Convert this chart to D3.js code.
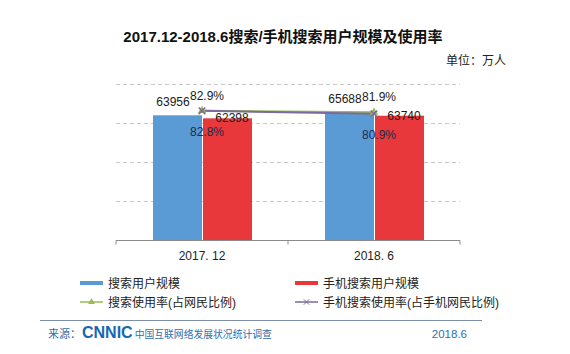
<!DOCTYPE html>
<html>
<head>
<meta charset="utf-8">
<script src="https://cdn.jsdelivr.net/npm/d3@7"></script>
<style>
  body { margin: 0; background: #fff; }
  svg { font-family: "Liberation Sans", Arial, "Noto Sans CJK SC", sans-serif; }
</style>
</head>
<body>
<svg width="570" height="354"></svg>
<script>
// data
var periods = ["2017. 12", "2018. 6"];
var searchUsers = [63956, 65688];
var mobileSearchUsers = [62398, 63740];
var searchRate = [82.9, 81.9];
var mobileSearchRate = [82.8, 80.9];
var yTicks = [0, 20000, 40000, 60000, 80000];

var svg = d3.select("svg"),
    width = +svg.attr("width"),
    height = +svg.attr("height");

var plot = {left: 116, right: 460, top: 84, bottom: 240};

var x = d3.scaleBand()
    .domain(periods)
    .range([plot.left, plot.right]);

var y = d3.scaleLinear()
    .domain([0, 80000])
    .range([plot.bottom, plot.top]);

// hidden right axis for the rates
var y2 = d3.scaleLinear()
    .domain([0, 100])
    .range([plot.bottom, plot.top]);

var barW = 49;
var blue = "#5b9bd5", red = "#e8383b", olive = "#9bbb59", purple = "#7b6a9b";

// title
svg.append("text")
    .attr("x", 283).attr("y", 42)
    .attr("text-anchor", "middle")
    .style("font-size", "15px")
    .style("font-weight", "bold")
    .style("fill", "#111")
    .text("2017.12-2018.6搜索/手机搜索用户规模及使用率");

svg.append("text")
    .attr("x", 506).attr("y", 65)
    .attr("text-anchor", "end")
    .style("font-size", "12px")
    .style("fill", "#222")
    .text("单位：万人");

// gridlines
svg.append("g")
  .selectAll("line")
  .data(yTicks.slice(1))
  .enter()
  .append("line")
    .attr("x1", plot.left).attr("x2", plot.right)
    .attr("y1", function(d){ return y(d) + 0.5 })
    .attr("y2", function(d){ return y(d) + 0.5 })
    .attr("stroke", "#c9c9c9")
    .attr("stroke-dasharray", "4,3");

// bars
var g = svg.append("g");
g.selectAll(".b1")
  .data(periods)
  .enter()
  .append("rect")
    .attr("x", function(d){ return x(d) + x.bandwidth()/2 - barW })
    .attr("y", function(d, i){ return y(searchUsers[i]) })
    .attr("width", barW)
    .attr("height", function(d, i){ return plot.bottom - y(searchUsers[i]) })
    .attr("fill", blue);

g.selectAll(".b2")
  .data(periods)
  .enter()
  .append("rect")
    .attr("x", function(d){ return x(d) + x.bandwidth()/2 + 1 })
    .attr("y", function(d, i){ return y(mobileSearchUsers[i]) })
    .attr("width", barW)
    .attr("height", function(d, i){ return plot.bottom - y(mobileSearchUsers[i]) })
    .attr("fill", red);

// x axis
var xAxis = svg.append("g")
    .attr("transform", "translate(0," + (plot.bottom + 0.5) + ")");
xAxis.append("line")
    .attr("x1", plot.left).attr("x2", plot.right)
    .attr("stroke", "#8a8a8a");
xAxis.selectAll(".tick")
  .data([plot.left, plot.left + x.bandwidth(), plot.right])
  .enter()
  .append("line")
    .attr("x1", function(d){ return d }).attr("x2", function(d){ return d })
    .attr("y1", 0).attr("y2", 4)
    .attr("stroke", "#8a8a8a");
xAxis.selectAll("text")
  .data(periods)
  .enter()
  .append("text")
    .attr("x", function(d){ return x(d) + x.bandwidth()/2 })
    .attr("y", 19)
    .attr("text-anchor", "middle")
    .style("font-size", "12px")
    .style("fill", "#222")
    .text(function(d){ return d });

// rate lines
var cx = function(d){ return x(d) + x.bandwidth()/2 };
var line1 = d3.line()
    .x(function(d, i){ return cx(periods[i]) })
    .y(function(d){ return y2(d) });

svg.append("path")
    .datum(searchRate)
    .attr("d", line1)
    .attr("fill", "none")
    .attr("stroke", olive)
    .attr("stroke-width", 2);
svg.append("path")
    .datum(mobileSearchRate)
    .attr("d", line1)
    .attr("fill", "none")
    .attr("stroke", purple)
    .attr("stroke-width", 2);

svg.selectAll(".tri")
  .data(searchRate)
  .enter()
  .append("path")
    .attr("d", d3.symbol().type(d3.symbolTriangle).size(30))
    .attr("transform", function(d, i){ return "translate(" + cx(periods[i]) + "," + y2(d) + ")" })
    .attr("fill", olive);
svg.selectAll(".cross")
  .data(mobileSearchRate)
  .enter()
  .append("path")
    .attr("d", d3.symbol().type(d3.symbolX).size(30))
    .attr("transform", function(d, i){ return "translate(" + cx(periods[i]) + "," + y2(d) + ")" })
    .attr("fill", "none")
    .attr("stroke", purple)
    .attr("stroke-width", 1.5);

// data labels
var lab = svg.append("g")
    .style("font-size", "12px")
    .style("fill", "#1a1a1a")
    .attr("text-anchor", "middle");
lab.selectAll(".l1")
  .data(searchUsers)
  .enter()
  .append("text")
    .attr("x", function(d, i){ return cx(periods[i]) - 29 })
    .attr("y", function(d){ return y(d) - 9 })
    .text(function(d){ return d });
lab.selectAll(".l2")
  .data(mobileSearchUsers)
  .enter()
  .append("text")
    .attr("x", function(d, i){ return cx(periods[i]) + 30 })
    .attr("y", function(d){ return y(d) + 4 })
    .text(function(d){ return d });
lab.selectAll(".l3")
  .data(searchRate)
  .enter()
  .append("text")
    .attr("x", function(d, i){ return cx(periods[i]) + 5 })
    .attr("y", function(d){ return y2(d) - 11 })
    .text(function(d){ return d.toFixed(1) + "%" });
lab.selectAll(".l4")
  .data(mobileSearchRate)
  .enter()
  .append("text")
    .attr("x", function(d, i){ return cx(periods[i]) + 5 })
    .attr("y", function(d){ return y2(d) + 25 })
    .style("fill", "#1c2a4a")
    .text(function(d){ return d.toFixed(1) + "%" });

// legend
var legend = [
  {name: "搜索用户规模", color: blue, x: 80, y: 283, kind: "bar"},
  {name: "手机搜索用户规模", color: red, x: 295, y: 283, kind: "bar"},
  {name: "搜索使用率(占网民比例)", color: olive, x: 80, y: 302, kind: "tri"},
  {name: "手机搜索使用率(占手机网民比例)", color: purple, x: 295, y: 302, kind: "x"}
];
var lg = svg.append("g");
legend.forEach(function(d){
  lg.append("line")
    .attr("x1", d.x).attr("x2", d.x + 23)
    .attr("y1", d.y).attr("y2", d.y)
    .attr("stroke", d.color)
    .attr("stroke-width", d.kind == "bar" ? 4 : 1.5);
  if (d.kind == "tri") {
    lg.append("path")
      .attr("d", d3.symbol().type(d3.symbolTriangle).size(20))
      .attr("transform", "translate(" + (d.x + 11.5) + "," + d.y + ")")
      .attr("fill", d.color);
  }
  if (d.kind == "x") {
    lg.append("path")
      .attr("d", d3.symbol().type(d3.symbolX).size(20))
      .attr("transform", "translate(" + (d.x + 11.5) + "," + d.y + ")")
      .attr("fill", "none")
      .attr("stroke", d.color);
  }
  lg.append("text")
    .attr("x", d.x + 28).attr("y", d.y + 4.5)
    .style("font-size", "12px")
    .style("fill", "#222")
    .text(d.name);
});

// footer
svg.append("line")
    .attr("x1", 40).attr("x2", 482)
    .attr("y1", 320.5).attr("y2", 320.5)
    .attr("stroke", "#7d8fa8")
    .attr("stroke-width", 1);
var foot = svg.append("text")
    .attr("x", 48).attr("y", 338)
    .style("fill", "#2f6fae");
foot.append("tspan")
    .style("font-size", "11px")
    .text("来源：");
foot.append("tspan")
    .attr("dx", 1)
    .style("font-size", "16px")
    .style("font-weight", "bold")
    .style("fill", "#1769b0")
    .text("CNNIC");
foot.append("tspan")
    .attr("dx", 2)
    .style("font-size", "9.8px")
    .text("中国互联网络发展状况统计调查");
svg.append("text")
    .attr("x", 467).attr("y", 338)
    .attr("text-anchor", "end")
    .style("font-size", "11.5px")
    .style("fill", "#2f6fae")
    .text("2018.6");
</script>
</body>
</html>
